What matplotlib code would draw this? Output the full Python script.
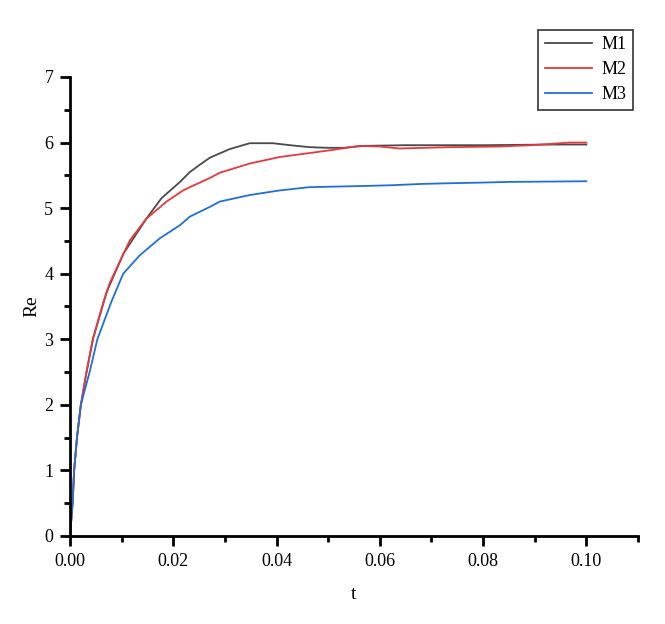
import matplotlib
matplotlib.use("Agg")
import matplotlib.pyplot as plt
from matplotlib.ticker import MultipleLocator

# Data
t_m1 = [0.0, 0.0005, 0.0008, 0.00135, 0.0021, 0.0032, 0.0045, 0.0071, 0.0103, 0.0148,
        0.0177, 0.0213, 0.0232, 0.0251, 0.0271, 0.0309, 0.0348, 0.0393, 0.0426,
        0.0464, 0.0500, 0.0530, 0.0570, 0.0650, 0.0800, 0.0930, 0.1000]
re_m1 = [0.0, 0.5, 1.0, 1.5, 2.0, 2.5, 3.02, 3.72, 4.30, 4.84,
         5.15, 5.40, 5.55, 5.66, 5.77, 5.90, 5.99, 5.99, 5.96,
         5.93, 5.92, 5.92, 5.95, 5.96, 5.96, 5.97, 5.97]

t_m2 = [0.0, 0.0005, 0.0008, 0.00135, 0.0021, 0.0032, 0.0044, 0.0066, 0.0077, 0.0116,
        0.0148, 0.0187, 0.0219, 0.0232, 0.0271, 0.0290, 0.0348, 0.0406, 0.0464,
        0.0510, 0.0560, 0.0600, 0.0638, 0.0735, 0.0832, 0.0893, 0.0932, 0.0967, 0.1000]
re_m2 = [0.0, 0.5, 1.0, 1.5, 2.0, 2.5, 3.0, 3.60, 3.86, 4.51,
         4.84, 5.10, 5.27, 5.32, 5.46, 5.54, 5.68, 5.78, 5.84,
         5.89, 5.95, 5.94, 5.91, 5.93, 5.94, 5.96, 5.98, 6.00, 6.00]

t_m3 = [0.0, 0.0005, 0.0008, 0.00135, 0.0021, 0.0038, 0.0053, 0.0080, 0.0103, 0.0135,
        0.0174, 0.0213, 0.0232, 0.0271, 0.0290, 0.0348, 0.0406, 0.0464, 0.0580,
        0.0625, 0.0683, 0.0735, 0.0800, 0.0850, 0.1000]
re_m3 = [0.0, 0.5, 1.0, 1.5, 2.0, 2.5, 3.0, 3.57, 4.00, 4.28,
         4.54, 4.74, 4.87, 5.02, 5.10, 5.20, 5.27, 5.32, 5.34,
         5.35, 5.37, 5.38, 5.39, 5.40, 5.41]

labels = ["M1", "M2", "M3"]
colors = ["#4a4a4a", "#e8383d", "#1f6fd8"]
x_ticks = [0.00, 0.02, 0.04, 0.06, 0.08, 0.10]
x_ticklabels = ["0.00", "0.02", "0.04", "0.06", "0.08", "0.10"]
y_ticks = [0, 1, 2, 3, 4, 5, 6, 7]

W, H = 665, 624
fig = plt.figure(figsize=(W / 100, H / 100), dpi=100)
ax = fig.add_axes([70 / W, 1 - 536 / H, (638 - 70) / W, (536 - 77) / H])

serif = ["Liberation Serif", "DejaVu Serif"]

for t, r, lab, c in zip([t_m1, t_m2, t_m3], [re_m1, re_m2, re_m3], labels, colors):
    ax.plot(t, r, color=c, lw=1.3, label=lab)

ax.set_xlim(0, 0.11)
ax.set_ylim(0, 7)
ax.set_xticks(x_ticks)
ax.set_xticklabels(x_ticklabels)
ax.set_yticks(y_ticks)
ax.xaxis.set_minor_locator(MultipleLocator(0.01))
ax.yaxis.set_minor_locator(MultipleLocator(0.5))

for s in ["top", "right"]:
    ax.spines[s].set_visible(False)
for s in ["left", "bottom"]:
    ax.spines[s].set_linewidth(2)

ax.tick_params(which="major", direction="out", length=7, width=2, labelsize=13, pad=5)
ax.tick_params(which="minor", direction="out", length=4, width=2)
for lbl in ax.get_xticklabels() + ax.get_yticklabels():
    lbl.set_fontfamily(serif)

ax.set_xlabel("t", fontsize=14, family=serif, labelpad=12)
ax.set_ylabel("Re", fontsize=14, family=serif, labelpad=3)

leg = fig.legend(loc="upper right", bbox_to_anchor=(633 / W, 1 - 30 / H),
                 frameon=True, fancybox=False, edgecolor="black",
                 prop={"family": serif, "size": 13}, handlelength=2.6,
                 borderpad=0.35, labelspacing=0.44, handletextpad=0.55,
                 borderaxespad=0)
leg.get_frame().set_linewidth(1.2)

fig.savefig("out.png", dpi=100)
